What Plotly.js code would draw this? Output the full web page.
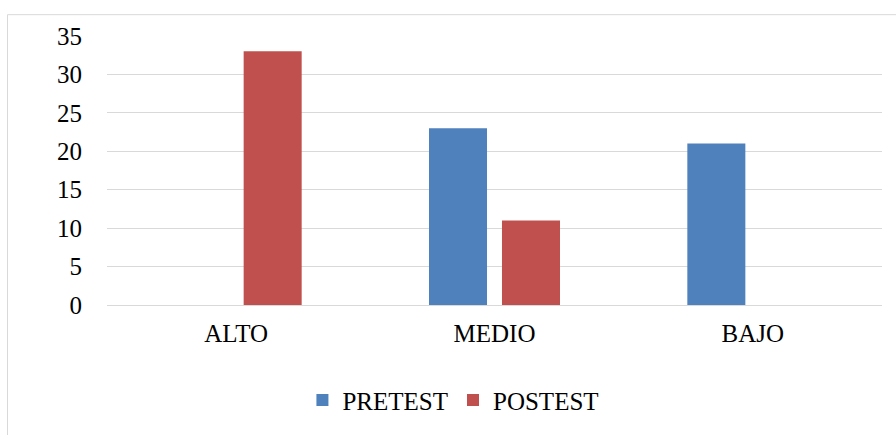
<!DOCTYPE html>
<html>
<head>
<meta charset="utf-8">
<script src="https://cdn.plot.ly/plotly-3.0.1.min.js"></script>
<style>
html,body{margin:0;padding:0;background:#fff;}
#chart{width:896px;height:435px;}
</style>
</head>
<body>
<div id="chart"></div>
<script>
var categories = ["ALTO", "MEDIO", "BAJO"];
var pretest = [0, 23, 21];
var postest = [33, 11, 0];
var seriesNames = ["PRETEST", "POSTEST"];
var yTicks = [0, 5, 10, 15, 20, 25, 30, 35];

var fontFam = '"Liberation Serif", "Times New Roman", serif';

var traces = [
  {type: 'bar', name: seriesNames[0], x: categories, y: pretest,
   marker: {color: '#4F81BD'}, hoverinfo: 'x+y+name'},
  {type: 'bar', name: seriesNames[1], x: categories, y: postest,
   marker: {color: '#C0504D'}, hoverinfo: 'x+y+name'}
];

var layout = {
  width: 896, height: 435,
  margin: {l: 107, r: 14, t: 36, b: 128},
  paper_bgcolor: '#fff', plot_bgcolor: '#fff',
  font: {family: fontFam, size: 25, color: '#000'},
  barmode: 'group',
  bargap: 0.435,
  bargroupgap: 0.205,
  showlegend: true,
  legend: {orientation: 'h', x: 0.447, xanchor: 'center', y: -0.354, yanchor: 'middle',
           font: {family: fontFam, size: 25, color: '#000'}, itemwidth: 30, tracegroupgap: 0},
  xaxis: {type: 'category', showgrid: false, zeroline: false, showline: false,
          ticks: 'outside', ticklen: 6, tickcolor: 'rgba(0,0,0,0)',
          tickfont: {family: fontFam, size: 25, color: '#000'}},
  yaxis: {range: [0, 35], tickvals: yTicks, showgrid: true, gridcolor: '#d9d9d9', gridwidth: 1,
          zeroline: true, zerolinecolor: '#d9d9d9', zerolinewidth: 1, showline: false,
          ticks: 'outside', ticklen: 19, tickcolor: 'rgba(0,0,0,0)',
          tickfont: {family: fontFam, size: 25, color: '#000'}},
  shapes: [{type: 'rect', xref: 'paper', yref: 'paper', layer: 'below',
            x0: -0.1284, x1: 1.03, y0: -0.5, y1: 1.0793,
            line: {color: '#d9d9d9', width: 1}, fillcolor: 'rgba(0,0,0,0)'}]
};

Plotly.newPlot('chart', traces, layout, {displayModeBar: false, staticPlot: true});
</script>
</body>
</html>
